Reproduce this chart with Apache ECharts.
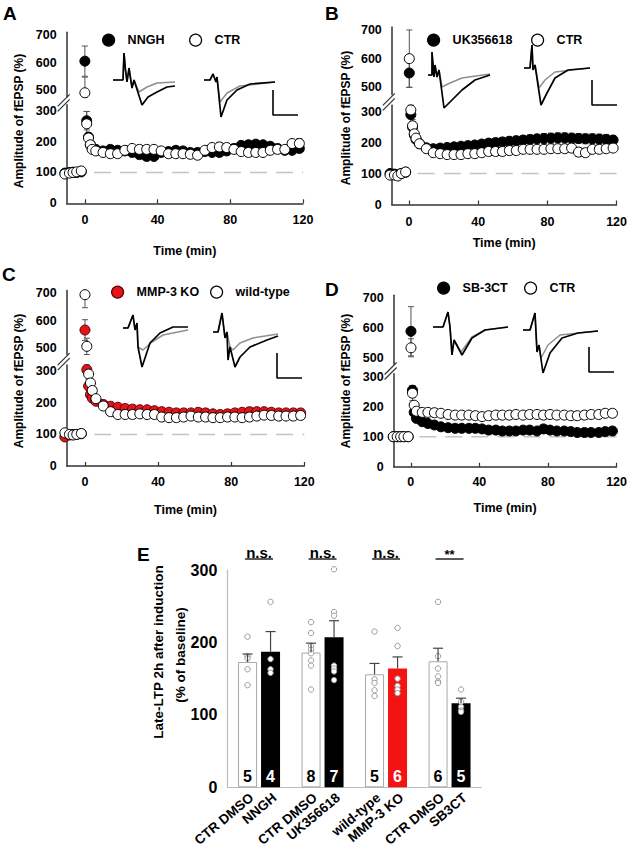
<!DOCTYPE html>
<html>
<head>
<meta charset="utf-8">
<script src="https://cdn.jsdelivr.net/npm/echarts@6.0.0/dist/echarts.min.js"></script>
<style>
html,body{margin:0;padding:0;background:#fff;}
#chart{width:630px;height:853px;}
</style>
</head>
<body>
<div id="chart"></div>
<script>
/* ================= DATA ================= */
const xTickValues = [0, 40, 80, 120];
const yTickLower = [0, 100, 200, 300];
const yTickUpper = [500, 600, 700];
const baselineLevel = 100;
const baselineFrom = 5;
const baselineTo = 120;

const timeABC = [-11,-8.5,-6.5,-4.5,-2, 0,1,2,3,4, 6,10,14,18,22,26,30,34,38,42,46,50,54,58,62,66,70,74,78,82,86,90,94,98,102,106,110,114,118];

// Panel A
const nnghA = [98,100,101,100,102, 605,268,215,190,178, 175,170,175,172,170,165,158,152,152,165,168,172,170,165,165,168,165,165,170,178,188,190,192,190,185,178,172,172,178];
const semNnghA = [5,4,4,4,5, 55,30,12,10,8, 8,8,9,8,8,8,9,10,9,8,8,8,8,8,8,8,8,8,8,9,10,10,10,10,9,8,8,9,10];
const ctrA = [95,98,100,102,105, 490,258,212,190,175, 170,165,161,161,172,178,175,175,175,170,161,161,161,159,156,172,181,183,181,175,168,165,165,165,172,175,175,194,194];
const semCtrA = [5,4,4,4,4, 57,40,15,10,8, 8,10,10,8,8,8,8,8,8,8,8,8,8,8,10,10,12,14,12,8,8,8,8,8,8,8,8,12,16];

// Panel B
const ukB = [100,98,96,100,104, 550,290,250,225,210, 196,183,180,182,184,186,188,190,192,195,198,200,202,204,206,208,210,212,213,214,215,215,214,213,212,212,211,210,208];
const semUkB = [5,5,5,5,5, 50,30,15,12,10, 10,10,10,10,10,10,10,10,12,12,12,12,12,14,14,14,14,14,16,16,16,16,16,16,16,16,16,16,14];
const ctrB = [95,95,92,100,105, 600,305,254,228,214, 196,180,167,164,161,161,161,164,164,167,171,171,171,174,174,178,178,178,178,180,180,180,182,169,167,178,178,180,182];
const semCtrB = [5,5,5,5,5, 100,28,20,15,12, 10,10,8,8,8,8,8,8,8,8,8,8,8,8,8,8,8,8,8,10,10,12,14,14,12,10,10,10,10];

// Panel C
const koC = [92,98,100,100,102, 565,305,253,226,215, 205,195,189,186,182,180,178,178,175,172,170,168,168,168,170,168,165,163,165,168,170,172,172,172,170,168,168,168,168];
const semKoC = [5,4,4,4,4, 38,20,12,10,8, 8,8,8,8,8,8,8,8,8,8,8,8,8,8,8,8,8,8,8,8,8,8,8,8,8,8,8,8,8];
const wtC = [105,100,98,100,103, 695,505,291,263,239, 213,190,172,163,163,163,165,163,163,155,153,153,155,158,155,155,153,153,155,155,153,155,158,161,160,158,158,158,160];
const semWtC = [4,4,4,4,4, 48,30,18,12,10, 8,8,8,8,8,8,8,8,8,8,8,8,8,8,8,8,8,8,8,8,8,8,8,8,8,8,8,8,8];

// Panel D
const timeD = [-10.2,-7.9,-5.9,-4,-1.5, 0,1,2, 3.3,6.7,10,13.8,17.6,21.8,25.9,29.7,33.9,37.7,41.6,45.4,49.6,53.4,57.5,61.3,65.5,69.3,73.6,77.4,81.2,85.2,89.5,93.3,97.1,101.3,105.2,109.6,113.4,117.6];
const sbD = [100,100,100,100,100, 590,255,181, 161,150,144,139,133,130,128,128,128,128,126,122,122,119,119,119,122,122,119,126,122,119,119,117,114,114,114,114,117,119];
const semSbD = [4,4,4,4,4, 82,15,10, 8,8,8,7,7,7,7,7,7,7,7,7,7,7,7,7,7,7,7,7,7,7,7,7,7,7,7,7,7,7];
const ctrD = [100,100,100,100,100, 535,245,205, 185,181,181,180,178,174,172,172,172,170,167,170,172,172,172,174,172,174,174,172,174,172,172,170,170,172,174,174,178,178];
const semCtrD = [4,4,4,4,4, 30,25,12, 8,8,8,8,8,8,8,8,8,8,8,8,8,8,8,8,8,10,10,8,8,8,8,8,8,8,8,8,8,8];

// Inset fEPSP traces: [time (ms), amplitude (mV)]
const traceA1Black = [[0,0],[4,0],[4.4,1.08],[5,0.4],[5.6,-0.08],[6.4,0.48],[7.6,-0.32],[8.4,0],[11.6,-1.0],[14,-0.68],[17.6,-0.48],[21.6,-0.28],[24.8,-0.24]];
const traceA1Gray  = [[0,0],[4,0],[4.4,1.08],[5,0.4],[5.6,-0.08],[6.4,0.48],[7.6,-0.32],[8.4,0],[10.4,-0.48],[13.6,-0.28],[17.6,-0.12],[24.8,-0.08]];
const traceA2Black = [[0,0],[2.4,0],[3.6,0.24],[4.8,-0.08],[5.2,0.12],[6.8,-1.48],[9.2,-0.8],[13.2,-0.4],[18.4,-0.16],[28.4,-0.08]];
const traceA2Gray  = [[0,0],[2.4,0],[3.6,0.24],[4.8,-0.08],[5.2,0.12],[6.4,-0.88],[9.2,-0.52],[14.4,-0.24],[28.4,-0.08]];
const traceB1Black = [[0,0],[1.6,0],[1.6,0.92],[2.4,-0.08],[2.8,0.4],[3.6,-0.08],[4.4,0.2],[6.4,-1.32],[9.6,-1.0],[13.6,-0.6],[18.8,-0.2],[24.8,0]];
const traceB1Gray  = [[0,0],[1.6,0],[1.6,0.92],[2.4,-0.08],[2.8,0.4],[3.6,-0.08],[4.4,0.2],[5.6,-0.48],[8.8,-0.32],[13.6,-0.12],[24.8,0.04]];
const traceB2Black = [[0,0],[2.4,0],[3.2,0.92],[3.6,-0.08],[4.4,0.12],[6.8,-1.48],[9.2,-1.0],[12.4,-0.4],[17.6,-0.08],[26.4,0]];
const traceB2Gray  = [[0,0],[2.4,0],[3.2,0.92],[3.6,-0.08],[4.4,0.12],[6,-0.8],[8.4,-0.48],[12.4,-0.16],[26.4,0]];
const traceC1Black = [[0,0],[2,0],[4,0.52],[4.8,-0.08],[5.6,0.2],[6,-0.76],[7.6,-1.56],[10.8,-0.6],[14.8,-0.2],[20,0.04],[26,0.04]];
const traceC1Gray  = [[0,0],[2,0],[4,0.52],[4.8,-0.08],[5.6,0.2],[6,-0.76],[8,-0.88],[11.6,-0.56],[16,-0.28],[26,-0.08]];
const traceC2Black = [[0,0],[2,0],[3.6,0.76],[4.8,-0.24],[5.6,0],[6,-1.12],[6.8,-0.6],[8.8,-1.4],[10.8,-1.0],[14.8,-0.6],[21.6,-0.32],[26,-0.16]];
const traceC2Gray  = [[0,0],[2,0],[3.6,0.76],[4.8,-0.24],[5.6,0],[6.8,-0.6],[8,-0.72],[10.8,-0.44],[16,-0.24],[26,-0.08]];
const traceD1Black = [[0,0],[4,0],[6,0.6],[6.8,0],[7.6,-1.12],[8.4,-0.52],[11.6,-1.12],[15.6,-0.44],[20.8,-0.12],[30,0]];
const traceD1Gray  = [[0,0],[4,0],[6,0.6],[6.8,0],[7.6,-1.12],[8.4,-0.52],[11.2,-1.0],[15.6,-0.4],[20.8,-0.12],[30,0]];
const traceD2Black = [[0,0],[2.8,0],[4.8,0.68],[5.6,-0.88],[6.4,-0.6],[8,-1.72],[10.8,-0.92],[15.6,-0.32],[22,-0.12],[30,-0.04]];
const traceD2Gray  = [[0,0],[2.8,0],[4.8,0.68],[5.6,-0.88],[6.4,-0.6],[7.2,-1.12],[10,-0.6],[14.8,-0.2],[30,-0.04]];
const scaleBarMv = 1;
const scaleBarMs = 10;

// Panel E
const eGroups = ['NNGH', 'UK356618', 'MMP-3 KO', 'SB3CT'];
const eLeftLabels = ['CTR DMSO', 'CTR DMSO', 'wild-type', 'CTR DMSO'];
const eRightLabels = ['NNGH', 'UK356618', 'MMP-3 KO', 'SB3CT'];
const eLeftMean = [173, 186, 156, 174];
const eLeftSem = [11, 13, 15, 18];
const eRightMean = [187, 207, 164, 116];
const eRightSem = [28, 23, 16, 7];
const eLeftN = [5, 8, 5, 6];
const eRightN = [4, 7, 6, 5];
const eLeftDots = [[208,181,178,163,141],[228,213,195,190,185,175,168,135],[215,149,144,134,126],[256,181,164,153,146,144]];
const eRightDots = [[256,177,163,158],[301,242,237,168,164,160,148],[220,195,150,140,135,130],[135,118,111,106,104]];
const eSig = ['n.s.', 'n.s.', 'n.s.', '**'];
const eYTicks = [0, 100, 200, 300];

/* ================= STYLE / LAYOUT ================= */
const FONT = "'Liberation Sans', Arial, Helvetica, sans-serif";
const AX = '#333';
const STYLE_FILLED = {color:'#000', borderColor:'#000'};
const STYLE_OPEN = {color:'#fff', borderColor:'#000'};
const STYLE_RED = {color:'#e3151a', borderColor:'#5a0000'};
const RIGHT_BAR_COLORS = ['#000', '#000', '#f41212', '#000'];
const RIGHT_TEXT_COLORS = ['#fff', '#fff', '#fff', '#fff'];

const panels = [
  {letter:'A', time:timeABC,
   s1:{name:'NNGH', v:nnghA, e:semNnghA, st:STYLE_FILLED},
   s2:{name:'CTR', v:ctrA, e:semCtrA, st:STYLE_OPEN},
   L:{low:{left:66.7,top:104.7,width:236.3,height:98.6}, up:{left:66.7,top:32.3,width:236.3,height:64.6},
      lowMax:320, upMin:475, upMax:710, labelMargin:10, nameGap:41,
      letterPos:[3,13.5], yNamePos:[19,121], leg1:[108,40], leg2:[195,40]}},
  {letter:'B', time:timeABC,
   s1:{name:'UK356618', v:ukB, e:semUkB, st:STYLE_FILLED},
   s2:{name:'CTR', v:ctrB, e:semCtrB, st:STYLE_OPEN},
   L:{low:{left:391.8,top:105.3,width:227.5,height:99.2}, up:{left:391.8,top:27.1,width:227.5,height:67.4},
      lowMax:320, upMin:475, upMax:710, labelMargin:10.5, nameGap:32,
      letterPos:[325,13.5], yNamePos:[346,118], leg1:[433,40], leg2:[537,40]}},
  {letter:'C', time:timeABC,
   s1:{name:'MMP-3 KO', v:koC, e:semKoC, st:STYLE_RED},
   s2:{name:'wild-type', v:wtC, e:semWtC, st:STYLE_OPEN},
   L:{low:{left:66.7,top:364.9,width:237.6,height:101.1}, up:{left:66.7,top:290.6,width:237.6,height:63.9},
      lowMax:320, upMin:475, upMax:710, labelMargin:9.5, nameGap:37.5,
      letterPos:[2,274.5], yNamePos:[19,381], leg1:[117,292], leg2:[216,292]}},
  {letter:'D', time:timeD,
   s1:{name:'SB-3CT', v:sbD, e:semSbD, st:STYLE_FILLED},
   s2:{name:'CTR', v:ctrD, e:semCtrD, st:STYLE_OPEN},
   L:{low:{left:393.6,top:373.7,width:225.7,height:93}, up:{left:393.6,top:295.3,width:225.7,height:69},
      lowMax:310, upMin:480, upMax:710, labelMargin:9, nameGap:35,
      letterPos:[325,289.5], yNamePos:[346,381], leg1:[443,288], leg2:[530,288]}}
];

const MS_PER_PX = 0.4, MV_PER_PX = 0.04;
const insets = [
  {box:{left:113,right:176,top:48,bottom:108,base:80}, black:traceA1Black, gray:traceA1Gray},
  {box:{left:204,right:298,top:70,bottom:118,base:80}, black:traceA2Black, gray:traceA2Gray, bar:[27.6,-1.4]},
  {box:{left:428,right:491,top:48,bottom:110,base:75}, black:traceB1Black, gray:traceB1Gray},
  {box:{left:524,right:617,top:43,bottom:107,base:68}, black:traceB2Black, gray:traceB2Gray, bar:[27.2,-1.48]},
  {box:{left:123,right:190,top:310,bottom:370,base:328}, black:traceC1Black, gray:traceC1Gray},
  {box:{left:213,right:304,top:310,bottom:380,base:332}, black:traceC2Black, gray:traceC2Gray, bar:[25.6,-1.84]},
  {box:{left:433,right:510,top:308,bottom:358,base:327}, black:traceD1Black, gray:traceD1Gray},
  {box:{left:523,right:614,top:310,bottom:375,base:330}, black:traceD2Black, gray:traceD2Gray, bar:[26.4,-1.68]}
];

const E_GRID = {left:227.3, top:570, width:254, height:217.3};
const BAR_W = 19, BAR_GAP_PX = 4;
const OFF = (BAR_W + BAR_GAP_PX) / 2;

/* ================= BUILD ================= */
const grid = [], xAxis = [], yAxis = [], series = [], legend = [], graphic = [];
const X_MIN = -10, X_MAX = 120;
const boldTxt = (size) => ({color:'#000', fontFamily:FONT, fontWeight:'bold', fontSize:size});

function errSeries(xi, yi, pts, yMin, yMax) {
  return {type:'custom', xAxisIndex:xi, yAxisIndex:yi, data:pts, clip:false, silent:true, z:2,
    renderItem(params, api) {
      const x = api.value(0), v = api.value(1), s = api.value(2);
      const hi = api.coord([x, Math.min(v + s, yMax)]);
      const lo = api.coord([x, Math.max(v - s, yMin)]);
      const w = 3, st = {stroke:'#555', lineWidth:1};
      return {type:'group', children:[
        {type:'line', shape:{x1:hi[0],y1:hi[1],x2:lo[0],y2:lo[1]}, style:st},
        {type:'line', shape:{x1:hi[0]-w,y1:hi[1],x2:hi[0]+w,y2:hi[1]}, style:st},
        {type:'line', shape:{x1:lo[0]-w,y1:lo[1],x2:lo[0]+w,y2:lo[1]}, style:st}
      ]};
    }};
}

function scatterSeries(name, xi, yi, pts, st) {
  return {type:'scatter', name, xAxisIndex:xi, yAxisIndex:yi, data:pts.map(p => [p[0], p[1]]),
    symbol:'circle', symbolSize:10, clip:false, silent:true, z:3,
    itemStyle:{color:st.color, borderColor:st.borderColor, borderWidth:1, opacity:1}};
}

panels.forEach(P => {
  const L = P.L;
  const gLow = grid.length; grid.push(Object.assign({}, L.low));
  const gUp = grid.length; grid.push(Object.assign({}, L.up));

  const xLow = xAxis.length;
  xAxis.push({gridIndex:gLow, type:'value', min:X_MIN, max:X_MAX,
    axisLine:{show:true, onZero:false, lineStyle:{color:AX, width:1.5}},
    axisTick:{show:true, inside:true, length:4, customValues:xTickValues, lineStyle:{color:AX, width:1.2}},
    axisLabel:Object.assign({customValues:xTickValues, margin:L.labelMargin}, boldTxt(12.5)),
    splitLine:{show:false},
    name:'Time (min)', nameLocation:'middle', nameGap:L.nameGap, nameTextStyle:boldTxt(12.5)});
  const xUp = xAxis.length;
  xAxis.push({gridIndex:gUp, type:'value', min:X_MIN, max:X_MAX, show:false});

  const yLow = yAxis.length;
  yAxis.push({gridIndex:gLow, type:'value', min:0, max:L.lowMax,
    axisLine:{show:true, onZero:false, lineStyle:{color:AX, width:1.5}},
    axisTick:{show:false}, splitLine:{show:false},
    axisLabel:Object.assign({customValues:yTickLower, margin:10}, boldTxt(12.5))});
  const yUp = yAxis.length;
  yAxis.push({gridIndex:gUp, type:'value', min:L.upMin, max:L.upMax,
    axisLine:{show:true, onZero:false, lineStyle:{color:AX, width:1.5}},
    axisTick:{show:false}, splitLine:{show:false},
    axisLabel:Object.assign({customValues:yTickUpper, margin:10}, boldTxt(12.5))});

  // dashed 100% baseline
  series.push({type:'line', xAxisIndex:xLow, yAxisIndex:yLow,
    data:[[baselineFrom, baselineLevel],[baselineTo, baselineLevel]],
    symbol:'none', silent:true, z:1, lineStyle:{color:'#c4c4c4', width:1.5, type:[17,9]}});

  const pts = s => P.time.map((t, i) => [t, s.v[i], s.e[i]]);
  const lowPts = s => pts(s).filter(d => d[1] <= L.lowMax);
  const upPts = s => pts(s).filter(d => d[1] >= L.upMin);

  [[xLow, yLow, lowPts, 0, L.lowMax], [xUp, yUp, upPts, L.upMin, L.upMax]].forEach(([xi, yi, f, mn, mx]) => {
    series.push(errSeries(xi, yi, f(P.s1), mn, mx));
    series.push(errSeries(xi, yi, f(P.s2), mn, mx));
    series.push(scatterSeries(P.s1.name, xi, yi, f(P.s1), P.s1.st));
    series.push(scatterSeries(P.s2.name, xi, yi, f(P.s2), P.s2.st));
  });

  // legends
  [[P.s1, L.leg1], [P.s2, L.leg2]].forEach(([s, pos]) => {
    legend.push({data:[{name:s.name, icon:'circle',
        itemStyle:{color:s.st.color, borderColor:s.st.borderColor, borderWidth:1.2}}],
      left:pos[0] - 6, top:pos[1] - 6.5, itemWidth:12, itemHeight:12, padding:0,
      selectedMode:false, textStyle:Object.assign({padding:[0,0,0,8]}, boldTxt(12.5))});
  });

  // panel letter, y-name
  graphic.push({type:'text', x:L.letterPos[0], y:L.letterPos[1],
    style:{text:P.letter, fill:'#000', font:'bold 19px ' + FONT, align:'left', verticalAlign:'middle'}});
  graphic.push({type:'text', x:L.yNamePos[0], y:L.yNamePos[1], rotation:Math.PI/2,
    style:{text:'Amplitude of fEPSP (%)', fill:'#000', font:'bold 12px ' + FONT, align:'center', verticalAlign:'middle'}});

  // axis break slashes
  const ax = L.low.left;
  const my = (L.up.top + L.up.height + L.low.top) / 2 + 2;
  [-2.5, 2.5].forEach(d => {
    graphic.push({type:'line', shape:{x1:ax-9, y1:my+6+d, x2:ax+3, y2:my-6+d},
      style:{stroke:'#333', lineWidth:1.2}});
  });
});

// Insets (traces + scale bars)
insets.forEach(I => {
  const b = I.box;
  const gi = grid.length;
  grid.push({left:b.left, top:b.top, width:b.right - b.left, height:b.bottom - b.top});
  const xi = xAxis.length;
  xAxis.push({gridIndex:gi, type:'value', min:0, max:(b.right - b.left) * MS_PER_PX, show:false});
  const yi = yAxis.length;
  yAxis.push({gridIndex:gi, type:'value', min:(b.base - b.bottom) * MV_PER_PX, max:(b.base - b.top) * MV_PER_PX, show:false});
  series.push({type:'line', xAxisIndex:xi, yAxisIndex:yi, data:I.gray, symbol:'none', clip:false, silent:true, z:3,
    lineStyle:{color:'#8f8f8f', width:1.5}});
  series.push({type:'line', xAxisIndex:xi, yAxisIndex:yi, data:I.black, symbol:'none', clip:false, silent:true, z:4,
    lineStyle:{color:'#000', width:1.7}});
  if (I.bar) {
    const c = I.bar;
    series.push({type:'line', xAxisIndex:xi, yAxisIndex:yi, symbol:'none', clip:false, silent:true, z:4,
      data:[[c[0], c[1] + scaleBarMv], [c[0], c[1]], [c[0] + scaleBarMs, c[1]]],
      lineStyle:{color:'#000', width:1.6}});
  }
});

// Panel E
const eg = grid.length;
grid.push(E_GRID);
const ex = xAxis.length;
xAxis.push({gridIndex:eg, type:'category', data:eGroups,
  axisLine:{show:true, onZero:false, lineStyle:{color:'#bdbdbd', width:1.2}},
  axisTick:{show:false}, axisLabel:{show:false}, splitLine:{show:false}});
const ey = yAxis.length;
yAxis.push({gridIndex:eg, type:'value', min:0, max:300, interval:100,
  axisLine:{show:true, onZero:false, lineStyle:{color:'#bdbdbd', width:1.2}},
  axisTick:{show:false}, splitLine:{show:false},
  axisLabel:Object.assign({customValues:eYTicks, margin:10}, boldTxt(16))});

series.push({type:'bar', xAxisIndex:ex, yAxisIndex:ey, data:eLeftMean, barWidth:BAR_W,
  barGap:(BAR_GAP_PX / BAR_W * 100) + '%', silent:true, z:2,
  itemStyle:{color:'#fff', borderColor:'#a8a8a8', borderWidth:1}});
series.push({type:'bar', xAxisIndex:ex, yAxisIndex:ey, barWidth:BAR_W,
  barGap:(BAR_GAP_PX / BAR_W * 100) + '%', silent:true, z:2,
  data:eRightMean.map((v, i) => ({value:v, itemStyle:{color:RIGHT_BAR_COLORS[i]}}))});

function eSide(means, sems, ns, labels, side, textColors) {
  return {type:'custom', xAxisIndex:ex, yAxisIndex:ey, clip:false, silent:true, z:5,
    data:means.map((m, i) => [i, m, sems[i], ns[i]]),
    renderItem(params, api) {
      const i = params.dataIndex;
      const g = api.value(0), m = api.value(1), s = api.value(2), n = api.value(3);
      const mid = api.coord([g, m]), top = api.coord([g, m + s]), base = api.coord([g, 0]);
      const x = mid[0] + side * OFF;
      const st = {stroke:'#444', lineWidth:1.2};
      return {type:'group', children:[
        {type:'line', shape:{x1:x, y1:mid[1], x2:x, y2:top[1]}, style:st},
        {type:'line', shape:{x1:x-5, y1:top[1], x2:x+5, y2:top[1]}, style:st},
        {type:'text', x:x, y:base[1] - 11,
          style:{text:String(n), fill:textColors[i], font:'bold 16px ' + FONT, align:'center', verticalAlign:'middle'}},
        {type:'text', x:x + 4, y:base[1] + 8.5, rotation:40 * Math.PI / 180,
          style:{text:labels[i], fill:'#000', font:'bold 13.5px ' + FONT, align:'right', verticalAlign:'middle'}}
      ]};
    }};
}
series.push(eSide(eLeftMean, eLeftSem, eLeftN, eLeftLabels, -1, ['#000','#000','#000','#000']));
series.push(eSide(eRightMean, eRightSem, eRightN, eRightLabels, 1, RIGHT_TEXT_COLORS));

function eDots(groups, side) {
  const data = [];
  groups.forEach((arr, g) => arr.forEach(v => data.push([g, v])));
  return {type:'custom', xAxisIndex:ex, yAxisIndex:ey, clip:false, silent:true, z:4, data,
    renderItem(params, api) {
      const c = api.coord([api.value(0), api.value(1)]);
      return {type:'circle', shape:{cx:c[0] + side * OFF, cy:c[1], r:2.7},
        style:{fill:'#fff', stroke:'#9a9a9a', lineWidth:1}};
    }};
}
series.push(eDots(eLeftDots, -1));
series.push(eDots(eRightDots, 1));

series.push({type:'custom', xAxisIndex:ex, yAxisIndex:ey, clip:false, silent:true, z:5,
  data:eSig.map((s, i) => [i, 300]),
  renderItem(params, api) {
    const txt = eSig[params.dataIndex];
    const c = api.coord([api.value(0), api.value(1)]);
    return {type:'group', children:[
      {type:'line', shape:{x1:c[0]-14, y1:c[1]-11, x2:c[0]+14, y2:c[1]-11}, style:{stroke:'#000', lineWidth:1.3}},
      {type:'text', x:c[0], y:c[1] - (txt === '**' ? 16 : 18),
        style:{text:txt, fill:'#000', font:'bold ' + (txt === '**' ? 13 : 15) + 'px ' + FONT, align:'center', verticalAlign:'middle'}}
    ]};
  }});

graphic.push({type:'text', x:137, y:554,
  style:{text:'E', fill:'#000', font:'bold 19px ' + FONT, align:'left', verticalAlign:'middle'}});
graphic.push({type:'text', x:158, y:652, rotation:Math.PI/2,
  style:{text:'Late-LTP 2h after induction', fill:'#000', font:'bold 13.5px ' + FONT, align:'center', verticalAlign:'middle'}});
graphic.push({type:'text', x:180, y:655, rotation:Math.PI/2,
  style:{text:'(% of baseline)', fill:'#000', font:'bold 13.5px ' + FONT, align:'center', verticalAlign:'middle'}});

const chart = echarts.init(document.getElementById('chart'), null, {renderer:'svg', width:630, height:853});
chart.setOption({
  animation:false,
  backgroundColor:'#fff',
  textStyle:{fontFamily:FONT},
  grid, xAxis, yAxis, series, legend, graphic
});
</script>
</body>
</html>
